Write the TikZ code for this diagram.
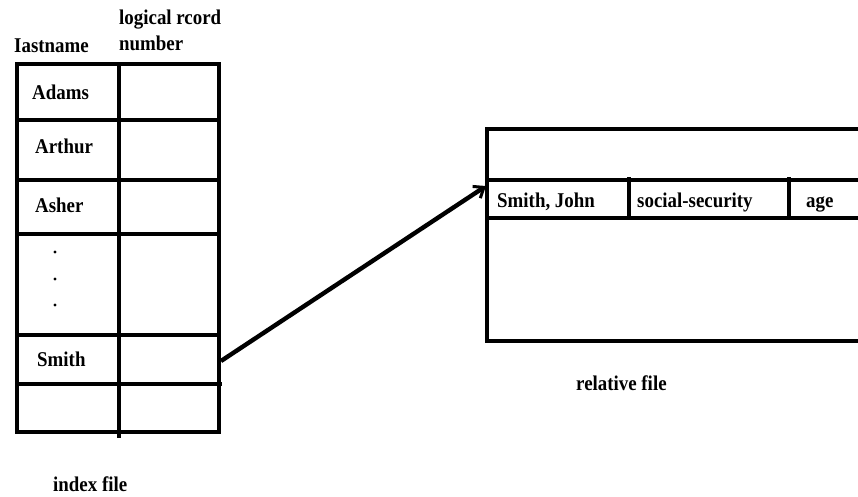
\documentclass[tikz,border=0pt]{standalone}
\usepackage{fontspec}
\setmainfont{Liberation Serif}[FakeStretch=0.9]
\usetikzlibrary{arrows.meta}
\begin{document}
\begin{tikzpicture}[x=1pt,y=-1pt,
  rule/.style={line width=4.4pt,line cap=butt},
  lbl/.style={font=\fontsize{21}{24}\selectfont\bfseries,inner sep=0pt,anchor=base west},
  dot/.style={circle,fill=black,inner sep=0pt,minimum size=3.4pt}]
\useasboundingbox (0,0) rectangle (858,496);

% index file grid
\draw[rule] (17,64) rectangle (219,432);
\draw[rule] (119,64) -- (119,438);
\foreach \yy in {120,180,234,335} \draw[rule] (17,\yy) -- (221,\yy);
\draw[rule] (17,384) -- (222,384);

% column headings and entries
\node[lbl] (hname) at (14,52) {Iastname};
\node[lbl] (hnum) at (119,24) {logical rcord};
\node[lbl] (hnum2) at (119,50) {number};
\node[lbl] (adams) at (32,99) {Adams};
\node[lbl] (arthur) at (35,153) {Arthur};
\node[lbl] (asher) at (35,212) {Asher};
\node[dot] (d1) at (55,252) {};
\node[dot] (d2) at (55,279) {};
\node[dot] (d3) at (55,305) {};
\node[lbl] (smith) at (37,366) {Smith};
\node[lbl] (indexlbl) at (53,491) {index file};

% relative file
\draw[rule] (862,129) -- (487,129) -- (487,341) -- (862,341);
\draw[rule] (487,180) -- (862,180);
\draw[rule] (487,218) -- (862,218);
\draw[rule] (629,177) -- (629,218);
\draw[rule] (789,177) -- (789,218);
\node[lbl] (rec1) at (497,207) {Smith, John};
\node[lbl] (rec2) at (637,207) {social-security};
\node[lbl] (rec3) at (806,207) {age};
\node[lbl] (relabel) at (576,390) {relative file};

% pointer from index entry to record
\coordinate (smithref) at (221,361);
\coordinate (johnrec) at (486,186);
\draw[line width=4.4pt,-{Straight Barb[length=9pt,width=14pt,line width=3pt]}] (smithref) -- (johnrec);
\end{tikzpicture}
\end{document}
